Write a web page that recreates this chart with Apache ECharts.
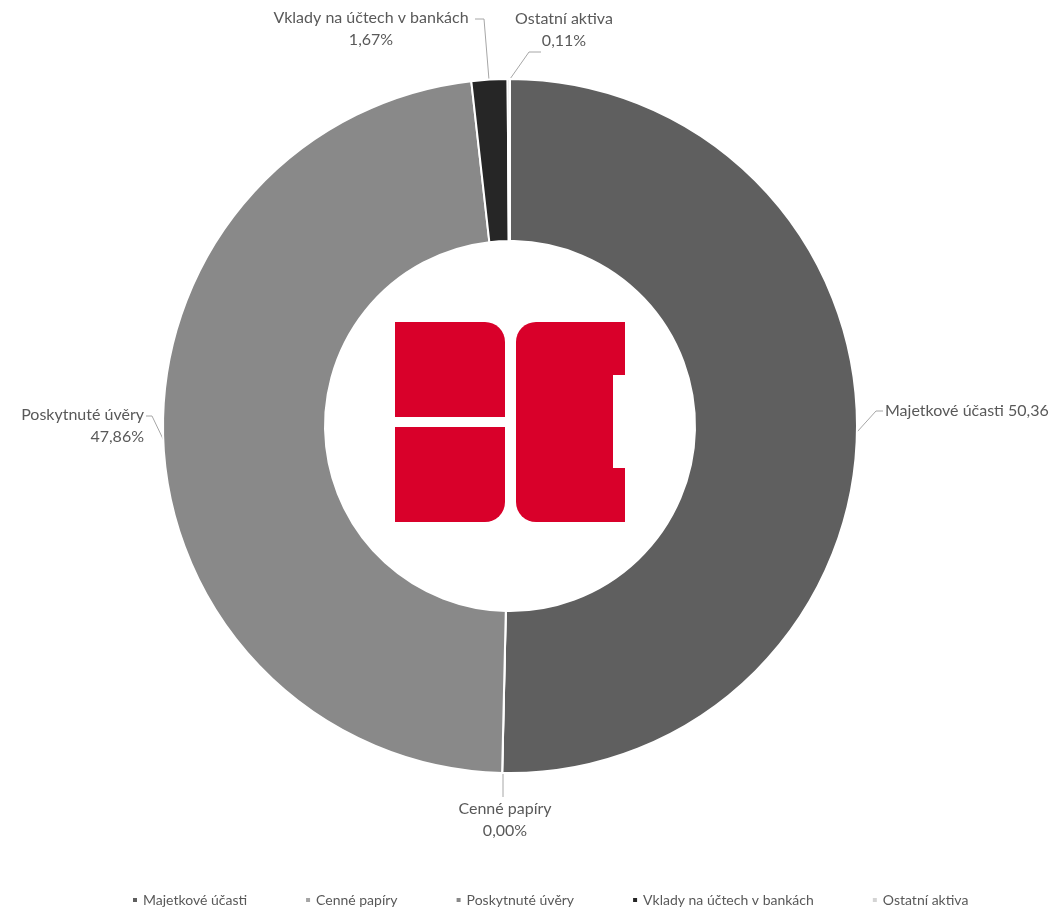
<!DOCTYPE html>
<html>
<head>
<meta charset="utf-8">
<script src="https://cdn.jsdelivr.net/npm/echarts@6/dist/echarts.min.js"></script>
<style>
    html, body { margin: 0; padding: 0; background: #fff; }
    #mainChart { width: 1063px; height: 908px; }
</style>
</head>
<body>
<div id="mainChart"></div>
<script>
// data
const categories = ['Majetkové účasti', 'Cenné papíry', 'Poskytnuté úvěry', 'Vklady na účtech v bankách', 'Ostatní aktiva'];
const shares = [50.36, 0.004, 47.86, 1.67, 0.11];
const shareLabels = ['50,36', '0,00', '47,86', '1,67', '0,11'];
const colors = ['#5f5f5f', '#a5a5a5', '#898989', '#262626', '#d4d4d4'];

const fontFamily = 'Lato, "Liberation Sans", sans-serif';
const textColor = '#595959';

// where each label sits (Excel-like manual placement)
const labelPlaces = [
    { x: 885, y: 411, align: 'left', line: [[857, 432], [876, 411], [883, 411]] },
    { x: 505, y: 820, align: 'center', line: [[503, 773], [503, 797]] },
    { x: 144, y: 426, align: 'right', line: [[164, 441], [152, 416], [146, 416]] },
    { x: 371, y: 29, align: 'center', line: [[489, 80], [484, 19], [475, 19]] },
    { x: 564, y: 30, align: 'center', line: [[510, 79], [529, 52], [541, 52]] }
];

let pieData = [];
for (let i = 0; i < categories.length; i++) {
    pieData.push({
        name: categories[i],
        value: shares[i],
        itemStyle: { color: colors[i] }
    });
}

// logo in the hole
function logoGraphic() {
    const red = '#d9002a';
    return [
        { type: 'rect', shape: { x: 395, y: 322, width: 110, height: 95, r: [0, 20, 0, 0] }, style: { fill: red } },
        { type: 'rect', shape: { x: 395, y: 427, width: 110, height: 95, r: [0, 0, 20, 0] }, style: { fill: red } },
        { type: 'rect', shape: { x: 516, y: 322, width: 109, height: 200, r: [20, 0, 0, 20] }, style: { fill: red } },
        { type: 'rect', shape: { x: 613, y: 375, width: 13, height: 93 }, style: { fill: '#fff' } }
    ];
}

const myChart = echarts.init(document.getElementById('mainChart'));
const option = {
    animation: false,
    color: colors,
    legend: {
        top: 888,
        left: 126,
        icon: 'rect',
        itemWidth: 6,
        itemHeight: 6,
        itemGap: 57,
        textStyle: { fontFamily: fontFamily, fontSize: 14, color: textColor },
        data: categories
    },
    graphic: logoGraphic(),
    series: [
        {
            type: 'pie',
            center: [510, 426],
            radius: [185, 347],
            startAngle: 90,
            clockwise: true,
            avoidLabelOverlap: false,
            itemStyle: { borderColor: '#fff', borderWidth: 2 },
            label: {
                show: true,
                position: 'outside',
                fontFamily: fontFamily,
                fontSize: 16,
                lineHeight: 22,
                color: textColor,
                formatter: function (p) {
                    const v = shareLabels[p.dataIndex];
                    if (p.dataIndex === 0) {
                        return p.name + ' ' + v;
                    }
                    return p.name + '\n' + v + '%';
                }
            },
            labelLine: {
                show: true,
                length: 15,
                length2: 12,
                lineStyle: { color: '#a6a6a6', width: 1 }
            },
            labelLayout: function (params) {
                const p = labelPlaces[params.dataIndex];
                return {
                    x: p.x,
                    y: p.y,
                    align: p.align,
                    verticalAlign: 'middle',
                    labelLinePoints: p.line
                };
            },
            emphasis: { disabled: true },
            data: pieData
        }
    ]
};
myChart.setOption(option);
</script>
</body>
</html>
